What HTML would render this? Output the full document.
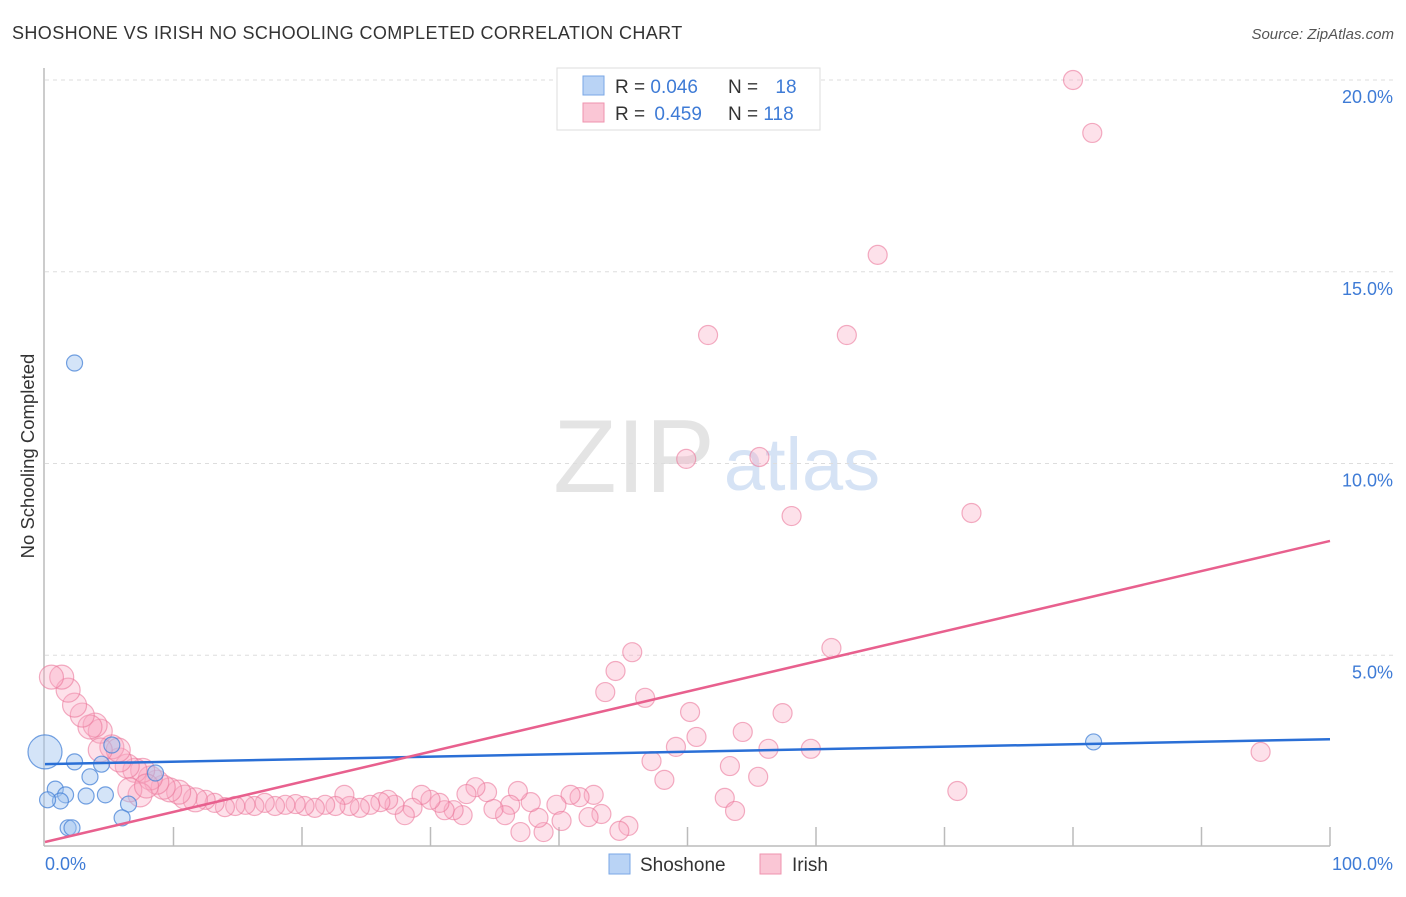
<!DOCTYPE html>
<html><head><meta charset="utf-8"><style>
body{margin:0;background:#fff;font-family:"Liberation Sans",sans-serif}
svg text{font-family:"Liberation Sans",sans-serif}
</style></head><body>
<svg id="chart" width="1406" height="892" xmlns="http://www.w3.org/2000/svg">
<text x="12" y="39" font-size="18" letter-spacing="0.4" fill="#333">SHOSHONE VS IRISH NO SCHOOLING COMPLETED CORRELATION CHART</text>
<text x="1394" y="39" font-size="15" fill="#555" text-anchor="end" font-style="italic">Source: ZipAtlas.com</text>
<text x="34" y="456" font-size="18.5" fill="#333" text-anchor="middle" transform="rotate(-90 34 456)">No Schooling Completed</text>
<g>
<text x="634" y="492" font-size="104" fill="#e4e4e4" text-anchor="middle" font-family="Liberation Serif,serif">ZIP</text>
<text x="802" y="490" font-size="74" fill="#d6e3f5" text-anchor="middle">atlas</text>
</g>
<g id="grid"></g><g id="axes"></g><g id="trend"></g><g id="pts"></g>
<g>
<rect x="557" y="68" width="263" height="62" fill="#fff" stroke="#ddd"/>
<rect x="583" y="76" width="21" height="19" fill="#b9d3f5" stroke="#7aa7e6"/>
<rect x="583" y="103" width="21" height="19" fill="#fac6d5" stroke="#ef93ae"/>
<text x="615" y="93" font-size="19" fill="#333">R = <tspan fill="#3e7bd6">0.046</tspan></text>
<text x="728" y="93" font-size="19" fill="#333">N = <tspan fill="#3e7bd6" dx="12">18</tspan></text>
<text x="615" y="120" font-size="19" fill="#333">R = <tspan fill="#3e7bd6" dx="4">0.459</tspan></text>
<text x="728" y="120" font-size="19" fill="#333">N = <tspan fill="#3e7bd6">118</tspan></text>
</g>
<g>
<rect x="609" y="854" width="21" height="20" fill="#b9d3f5" stroke="#7aa7e6"/>
<text x="640" y="871" font-size="19" fill="#333">Shoshone</text>
<rect x="760" y="854" width="21" height="20" fill="#fac6d5" stroke="#ef93ae"/>
<text x="792" y="871" font-size="19" fill="#333">Irish</text>
</g>
</svg>
<script>
const yTicks=[5,10,15,20];
const yTickLabels=["5.0%","10.0%","15.0%","20.0%"];
const xTickLabels=["0.0%","100.0%"];
const shoX=[0,2.3,5.2,8.6,2.3,4.4,3.5,0.8,1.6,1.2,3.2,4.7,6.5,6.0,1.8,2.1,81.6,0.2];
const shoY=[2.48,12.62,2.66,1.93,2.22,2.16,1.83,1.51,1.36,1.2,1.33,1.36,1.12,0.76,0.5,0.5,2.74,1.23];
const shoR=[17,8,8,8,8,8,8,8,8,8,8,8,8,8,8,8,8,8];
const irX=[80.0,81.5,64.8,51.6,62.4,49.9,55.6,58.1,72.1,61.2,45.7,44.4,43.6,46.7,50.2,57.4,54.3,50.7,49.1,56.3,59.6,47.2,53.3,48.2,55.5,71.0,94.6,52.9,53.7,45.4,44.7,43.3,42.3,42.7,41.6,40.9,39.8,40.2,38.8,38.4,37.0,37.8,36.8,36.2,35.8,34.9,34.4,33.5,32.8,32.5,31.8,31.1,30.7,30.0,29.3,28.6,28.0,27.2,26.7,26.1,25.3,24.5,23.7,23.3,22.6,21.8,21.0,20.2,19.5,18.7,17.9,17.1,16.3,15.6,14.8,14.0,13.2,12.5,11.7,10.9,10.4,9.7,9.2,8.7,8.2,7.6,7.0,6.4,5.8,5.2,5.7,4.3,3.9,3.5,2.9,2.3,1.8,1.3,0.5,7.4,6.6,4.3,7.9];
const irY=[20.0,18.62,15.44,13.35,13.35,10.12,10.17,8.63,8.71,5.19,5.08,4.59,4.04,3.89,3.52,3.49,3.0,2.87,2.61,2.56,2.56,2.24,2.11,1.75,1.83,1.46,2.48,1.28,0.94,0.55,0.42,0.86,0.78,1.36,1.3,1.36,1.1,0.68,0.39,0.76,0.39,1.17,1.46,1.1,0.83,0.99,1.43,1.56,1.38,0.83,0.96,0.96,1.15,1.23,1.36,1.02,0.83,1.1,1.23,1.17,1.1,1.02,1.07,1.36,1.07,1.1,1.02,1.07,1.12,1.1,1.07,1.15,1.07,1.1,1.07,1.04,1.15,1.23,1.23,1.3,1.43,1.49,1.56,1.69,1.8,2.0,2.0,2.11,2.27,2.61,2.53,3.02,3.18,3.13,3.44,3.7,4.09,4.43,4.43,1.36,1.49,2.53,1.59];
const shoTrend=[2.16,2.81];
const irTrend=[0.13,7.98];
const NS="http://www.w3.org/2000/svg";
const sx=v=>45+v*12.85, sy=v=>847-v*38.35;
function mk(t,a,p){const e=document.createElementNS(NS,t);for(const k in a)e.setAttribute(k,a[k]);p.appendChild(e);return e;}
const grid=document.getElementById('grid'),axes=document.getElementById('axes'),trend=document.getElementById('trend'),pts=document.getElementById('pts');
yTicks.forEach((t,i)=>{
 const l=mk('line',{x1:45,x2:1394,y1:sy(t),y2:sy(t),stroke:'#ddd','stroke-dasharray':'4,4'},grid);
 
 
 const tx=mk('text',{x:1393,y:sy(t)+23,'font-size':18,fill:'#3e7bd6','text-anchor':'end'},axes);tx.textContent=yTickLabels[i];
 
 
});
const ya=mk('line',{x1:44,x2:44,y1:68,y2:846,stroke:'#bbb','stroke-width':1.5},axes);


const xa=mk('line',{x1:44,x2:1330,y1:846,y2:846,stroke:'#bbb','stroke-width':1.5},axes);


for(let i=1;i<=10;i++){const t=mk('line',{x1:sx(i*10),x2:sx(i*10),y1:827,y2:846,stroke:'#bbb','stroke-width':1.5},axes);
 
 }
[0,100].forEach((v,i)=>{const t=mk('text',{x:i?1393:45,y:870,'font-size':18,fill:'#3e7bd6','text-anchor':i?'end':'start'},axes);t.textContent=xTickLabels[i];
 
 });
irX.forEach((x,i)=>{const r=x<12?12:9.5;const c=mk('circle',{cx:sx(x),cy:sy(irY[i]),r:r,fill:'rgba(248,170,195,0.35)',stroke:'rgba(235,120,155,0.6)','stroke-width':1.2},pts);
 
 });
shoX.forEach((x,i)=>{const c=mk('circle',{cx:sx(x),cy:sy(shoY[i]),r:shoR[i],fill:'rgba(160,195,240,0.45)',stroke:'rgba(70,130,215,0.75)','stroke-width':1.2},pts);
 
 });
const t1=mk('line',{x1:sx(0),y1:sy(shoTrend[0]),x2:sx(100),y2:sy(shoTrend[1]),stroke:'#2a6fd6','stroke-width':2.5},pts);


const t2=mk('line',{x1:sx(0),y1:sy(irTrend[0]),x2:sx(100),y2:sy(irTrend[1]),stroke:'#e8608e','stroke-width':2.5},pts);


</script>
</body></html>
